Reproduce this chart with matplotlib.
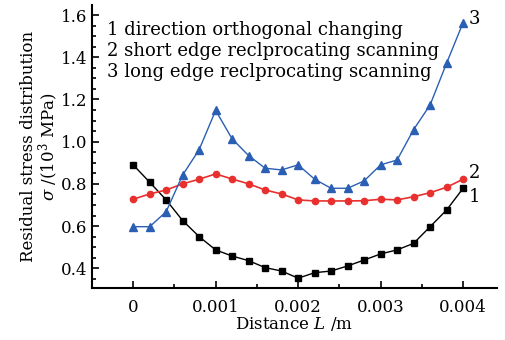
import numpy as np
import matplotlib
matplotlib.use("Agg")
import matplotlib.pyplot as plt
from matplotlib.ticker import MultipleLocator, FuncFormatter

plt.rcParams['font.family'] = ['DejaVu Serif']
plt.rcParams['mathtext.fontset'] = 'dejavuserif'

distance = [0, 0.0002, 0.0004, 0.0006, 0.0008, 0.001, 0.0012, 0.0014, 0.0016, 0.0018,
            0.002, 0.0022, 0.0024, 0.0026, 0.0028, 0.003, 0.0032, 0.0034, 0.0036, 0.0038, 0.004]

# 1 direction orthogonal changing
stress_orth = [0.890, 0.808, 0.724, 0.626, 0.550, 0.487, 0.458, 0.436, 0.403, 0.387,
               0.353, 0.379, 0.387, 0.411, 0.439, 0.468, 0.487, 0.518, 0.597, 0.676, 0.779]
# 2 short edge reciprocating
stress_short = [0.727, 0.752, 0.771, 0.800, 0.822, 0.847, 0.823, 0.800, 0.771, 0.752,
                0.724, 0.719, 0.719, 0.719, 0.720, 0.727, 0.724, 0.739, 0.758, 0.784, 0.822]
# 3 long edge reciprocating
stress_long = [0.597, 0.597, 0.668, 0.842, 0.962, 1.148, 1.013, 0.934, 0.874, 0.866,
               0.890, 0.822, 0.779, 0.779, 0.814, 0.890, 0.913, 1.057, 1.174, 1.372, 1.564]

legend_lines = ["1 direction orthogonal changing",
                "2 short edge reclprocating scanning",
                "3 long edge reclprocating scanning"]

fig = plt.figure(figsize=(5.05, 3.4), dpi=100)
ax = fig.add_axes([0.182, 0.152, 0.802, 0.833])

ax.plot(distance, stress_orth, color='black', lw=1.0, marker='s', ms=5)
ax.plot(distance, stress_short, color='#e8302e', lw=1.2, marker='o', ms=4.5)
ax.plot(distance, stress_long, color='#2b5fb4', lw=1.0, marker='^', ms=5.5)

ax.text(0.00407, 1.58, "3", fontsize=13, va='center')
ax.text(0.00407, 0.852, "2", fontsize=13, va='center')
ax.text(0.00407, 0.738, "1", fontsize=13, va='center')

for i, s in enumerate(legend_lines):
    ax.text(0.037, 0.912 - i * 0.074, s, transform=ax.transAxes, fontsize=13, va='center')

ax.set_xlim(-0.0005, 0.00441)
ax.set_ylim(0.305, 1.647)
ax.xaxis.set_major_locator(MultipleLocator(0.001))
ax.xaxis.set_minor_locator(MultipleLocator(0.0005))
ax.yaxis.set_major_locator(MultipleLocator(0.2))
ax.yaxis.set_minor_locator(MultipleLocator(0.05))
ax.xaxis.set_major_formatter(FuncFormatter(lambda v, p: "0" if abs(v) < 1e-9 else "%.3f" % v))
ax.yaxis.set_major_formatter(FuncFormatter(lambda v, p: "%.1f" % v))

for s in ['top', 'right']:
    ax.spines[s].set_visible(False)
for s in ['left', 'bottom']:
    ax.spines[s].set_linewidth(1.5)
ax.tick_params(which='both', direction='in', labelsize=12, width=1.2)
ax.tick_params(which='major', length=5)
ax.tick_params(which='minor', length=3)
ax.tick_params(axis='x', pad=8)
ax.tick_params(axis='y', pad=3)

ax.set_xlabel("Distance $\\mathit{L}$ /m", fontsize=12, labelpad=-1)
ax.set_ylabel("Residual stress distribution\n$\\sigma$ /(10$^3$ MPa)", fontsize=12,
              labelpad=0, linespacing=1.0)

fig.savefig("out.png", dpi=100)
